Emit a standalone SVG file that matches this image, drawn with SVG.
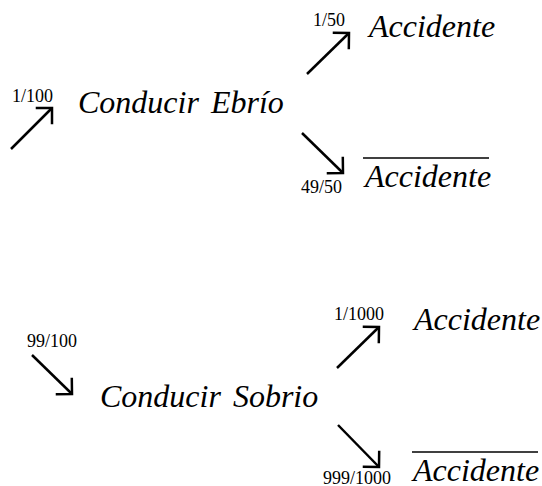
<svg xmlns="http://www.w3.org/2000/svg" width="542" height="486" viewBox="0 0 542 486">
  <style>
    text { font-family: 'Liberation Serif', 'Times New Roman', 'DejaVu Serif', serif; fill: #000; }
    .lbl { font-style: italic; font-size: 32px; }
    .prob { font-size: 18px; }
    .edge { stroke: #000; stroke-width: 2.5; fill: none; marker-end: url(#head); }
    .bar { stroke: #000; stroke-width: 1.6; }
  </style>
  <defs>
    <!-- open chevron head, arms at 45 degrees to the shaft -->
    <marker id="head" markerUnits="userSpaceOnUse" markerWidth="30" markerHeight="30" viewBox="-15 -15 30 30" refX="0" refY="0" orient="auto" overflow="visible">
      <path d="M-11.5,-11.5 L0,0 L-11.5,11.5" fill="none" stroke="#000" stroke-width="2.5" stroke-linejoin="miter"/>
    </marker>
  </defs>
  <rect width="542" height="486" fill="#fff"/>

  <g id="connectors">
    <path class="edge" d="M11,149 L52,108"/>
    <path class="edge" d="M307,74 L349,33"/>
    <path class="edge" d="M302,133 L343,173"/>
    <path class="edge" d="M32,355 L72,394"/>
    <path class="edge" d="M337,368 L379,327"/>
    <path class="edge" d="M338,425 L379,467"/>
  </g>

  <g id="p-ebrio"><text class="prob" x="12" y="102">1/100</text></g>
  <g id="ebrio"><text class="lbl" x="78" y="113" word-spacing="4">Conducir Ebrío</text></g>

  <g id="p-ebrio-acc"><text class="prob" x="313" y="26">1/50</text></g>
  <g id="ebrio-acc"><text class="lbl" x="369" y="37">Accidente</text></g>

  <g id="p-ebrio-noacc"><text class="prob" x="301" y="193" font-size="19">49/50</text></g>
  <g id="ebrio-noacc">
    <line class="bar" x1="363" y1="158" x2="489" y2="158"/>
    <text class="lbl" x="365" y="187">Accidente</text>
  </g>

  <g id="p-sobrio"><text class="prob" x="27" y="347">99/100</text></g>
  <g id="sobrio"><text class="lbl" x="100" y="407" word-spacing="4">Conducir Sobrio</text></g>

  <g id="p-sobrio-acc"><text class="prob" x="334" y="320">1/1000</text></g>
  <g id="sobrio-acc"><text class="lbl" x="414" y="330">Accidente</text></g>

  <g id="p-sobrio-noacc"><text class="prob" x="323" y="484" font-size="19">999/1000</text></g>
  <g id="sobrio-noacc">
    <line class="bar" x1="412" y1="452" x2="538" y2="452"/>
    <text class="lbl" x="413" y="481">Accidente</text>
  </g>
</svg>
